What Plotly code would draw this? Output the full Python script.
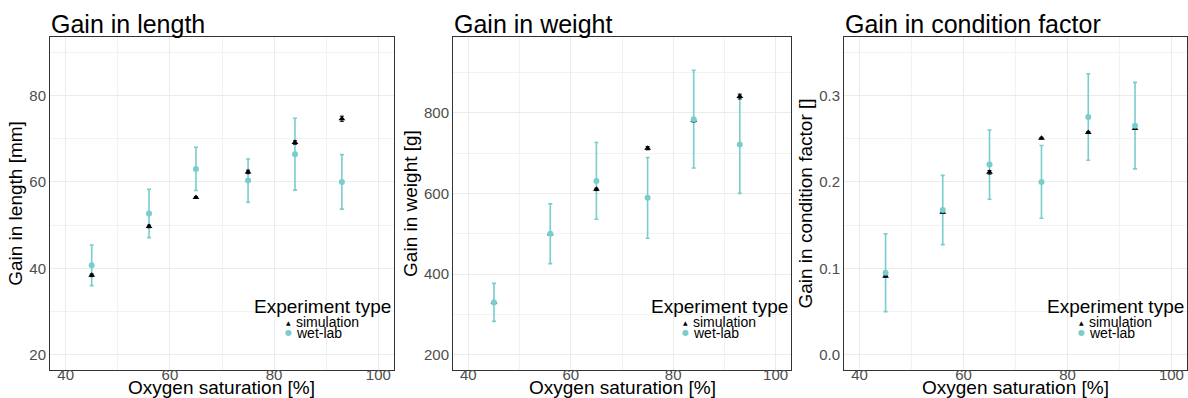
import plotly.graph_objects as go

W, H = 1188, 398
FONT = "Liberation Sans, Arial, sans-serif"
TEAL = "#79cdcd"

oxygen = [45, 56, 65, 75, 84, 93]

# Gain in length [mm]
len_wet = [40.7, 52.7, 63.0, 60.3, 66.4, 60.0]
len_wet_err = [4.7, 5.6, 5.0, 5.0, 8.3, 6.3]
len_sim = [38.4, 49.7, 56.4, 62.3, 69.1, 74.6]
len_sim_err = [0.3, 0.3, 0.2, 0.4, 0.4, 0.6]

# Gain in weight [g]
wt_wet = [330, 500, 631, 589, 784, 721]
wt_wet_err = [47, 74, 95, 100, 121, 121]
wt_sim = [330, 500, 610, 712, 781, 840]
wt_sim_err = [3, 3, 3, 4, 4, 6]

# Gain in condition factor []
cf_wet = [0.095, 0.1675, 0.220, 0.200, 0.275, 0.265]
cf_wet_err = [0.045, 0.040, 0.040, 0.042, 0.050, 0.050]
cf_sim = [0.091, 0.165, 0.211, 0.2505, 0.257, 0.2616]
cf_sim_err = [0.001, 0.001, 0.002, 0.001, 0.001, 0.001]

legend_title = "Experiment type"
series_names = ["simulation", "wet-lab"]

panels = [
    dict(title="Gain in length", ytitle="Gain in length [mm]", wet=len_wet, wet_err=len_wet_err,
         sim=len_sim, sim_err=len_sim_err, yrange=[16.5, 93.5], dtick=20, fmt="d",
         px=(50, 394)),
    dict(title="Gain in weight", ytitle="Gain in weight [g]", wet=wt_wet, wet_err=wt_wet_err,
         sim=wt_sim, sim_err=wt_sim_err, yrange=[162.5, 987.5], dtick=200, fmt="d",
         px=(453, 791)),
    dict(title="Gain in condition factor", ytitle="Gain in condition factor []", wet=cf_wet,
         wet_err=cf_wet_err, sim=cf_sim, sim_err=cf_sim_err, yrange=[-0.0175, 0.3675],
         dtick=0.1, fmt=".1f", px=(844, 1187)),
]

XRANGE = [37, 103]
PLOT_TOP, PLOT_BOT = 37, 370


def py(pix):
    return 1 - pix / H


fig = go.Figure()
annotations = []
for i, p in enumerate(panels):
    n = "" if i == 0 else str(i + 1)
    xa, ya = "x" + n, "y" + n
    xl = "x" + str(i + 4)  # tick-label axis
    fig.add_trace(go.Scatter(
        x=oxygen, y=p["wet"], mode="markers", xaxis=xa, yaxis=ya,
        marker=dict(color="rgba(0,0,0,0)", size=1),
        error_y=dict(type="data", array=p["wet_err"], color=TEAL, thickness=1.6, width=2),
        showlegend=False, hoverinfo="skip"))
    fig.add_trace(go.Scatter(
        x=oxygen, y=p["sim"], mode="markers", xaxis=xa, yaxis=ya, name=series_names[0],
        marker=dict(color="black", symbol="triangle-up", size=6),
        error_y=dict(type="data", array=p["sim_err"], color="black", thickness=1, width=2),
        showlegend=False))
    fig.add_trace(go.Scatter(
        x=oxygen, y=p["wet"], mode="markers", xaxis=xa, yaxis=ya, name=series_names[1],
        marker=dict(color=TEAL, symbol="circle", size=6),
        showlegend=False))
    # invisible trace so the tick-label axis is drawn
    fig.add_trace(go.Scatter(
        x=oxygen, y=p["wet"], mode="markers", xaxis=xl, yaxis=ya,
        marker=dict(color="rgba(0,0,0,0)", size=1),
        showlegend=False, hoverinfo="skip"))

    L, R = p["px"]
    x0, x1 = L / W, R / W
    tickfont = dict(family=FONT, size=15, color="#4d4d4d")
    axis_common = dict(showline=True, linecolor="#333333", linewidth=1, mirror=True,
                       showgrid=True, gridcolor="#ebebeb", gridwidth=1, zeroline=False,
                       ticks="", tickfont=tickfont)
    fig.update_layout(**{
        "xaxis" + n: dict(domain=[x0, x1], range=XRANGE, tick0=40, dtick=20,
                          anchor=ya, minor=dict(showgrid=True, gridcolor="#f2f2f2", gridwidth=1, dtick=10),
                          showticklabels=False,
                          **axis_common),
        # tick-label axis, placed slightly higher so labels hug the panel like ggplot
        "xaxis" + str(i + 4): dict(domain=[x0, x1], range=XRANGE, tick0=40, dtick=20,
                                   overlaying=xa, anchor="free", position=py(364), side="bottom",
                                   showgrid=False, showline=False, zeroline=False, ticks="",
                                   tickfont=tickfont),
        "yaxis" + n: dict(domain=[py(PLOT_BOT), py(PLOT_TOP)], range=p["yrange"],
                          dtick=p["dtick"], tick0=0, tickformat=p["fmt"], anchor=xa,
                          minor=dict(showgrid=True, gridcolor="#f2f2f2", gridwidth=1, dtick=p["dtick"] / 2),
                          title=dict(text=p["ytitle"], font=dict(family=FONT, size=19, color="black"), standoff=1),
                          **axis_common),
    })
    # panel title
    annotations.append(dict(text=p["title"], xref="paper", yref="paper", x=x0 - 1 / W, y=py(24),
                            xanchor="left", yanchor="middle", showarrow=False,
                            font=dict(family=FONT, size=25, color="black")))
    # x axis title
    annotations.append(dict(text="Oxygen saturation [%]", xref="paper", yref="paper",
                            x=(x0 + x1) / 2, y=py(387.5), xanchor="center", yanchor="middle",
                            showarrow=False, font=dict(family=FONT, size=19, color="black")))
    # legend (inside plot, bottom right)
    annotations.append(dict(text=legend_title, xref="paper", yref="paper", x=(R - 1) / W, y=py(306),
                            xanchor="right", yanchor="middle", showarrow=False,
                            font=dict(family=FONT, size=19, color="black")))
    annotations.append(dict(text=series_names[0], xref="paper", yref="paper", x=(R - 100) / W, y=py(321.5),
                            xanchor="left", yanchor="middle", showarrow=False,
                            font=dict(family=FONT, size=14, color="black")))
    annotations.append(dict(text=series_names[1], xref="paper", yref="paper", x=(R - 100) / W, y=py(332.5),
                            xanchor="left", yanchor="middle", showarrow=False,
                            font=dict(family=FONT, size=14, color="black")))
    annotations.append(dict(text="▲", xref="paper", yref="paper", x=(R - 106) / W, y=py(322.5),
                            xanchor="center", yanchor="middle", showarrow=False,
                            font=dict(family="DejaVu Sans", size=6, color="black")))
    annotations.append(dict(text="●", xref="paper", yref="paper", x=(R - 106) / W, y=py(332),
                            xanchor="center", yanchor="middle", showarrow=False,
                            font=dict(family="DejaVu Sans", size=8, color=TEAL)))

fig.update_layout(width=W, height=H, margin=dict(l=0, r=0, t=0, b=0),
                  paper_bgcolor="white", plot_bgcolor="white", showlegend=False,
                  annotations=annotations, font=dict(family=FONT))
fig.write_html("out.html")
